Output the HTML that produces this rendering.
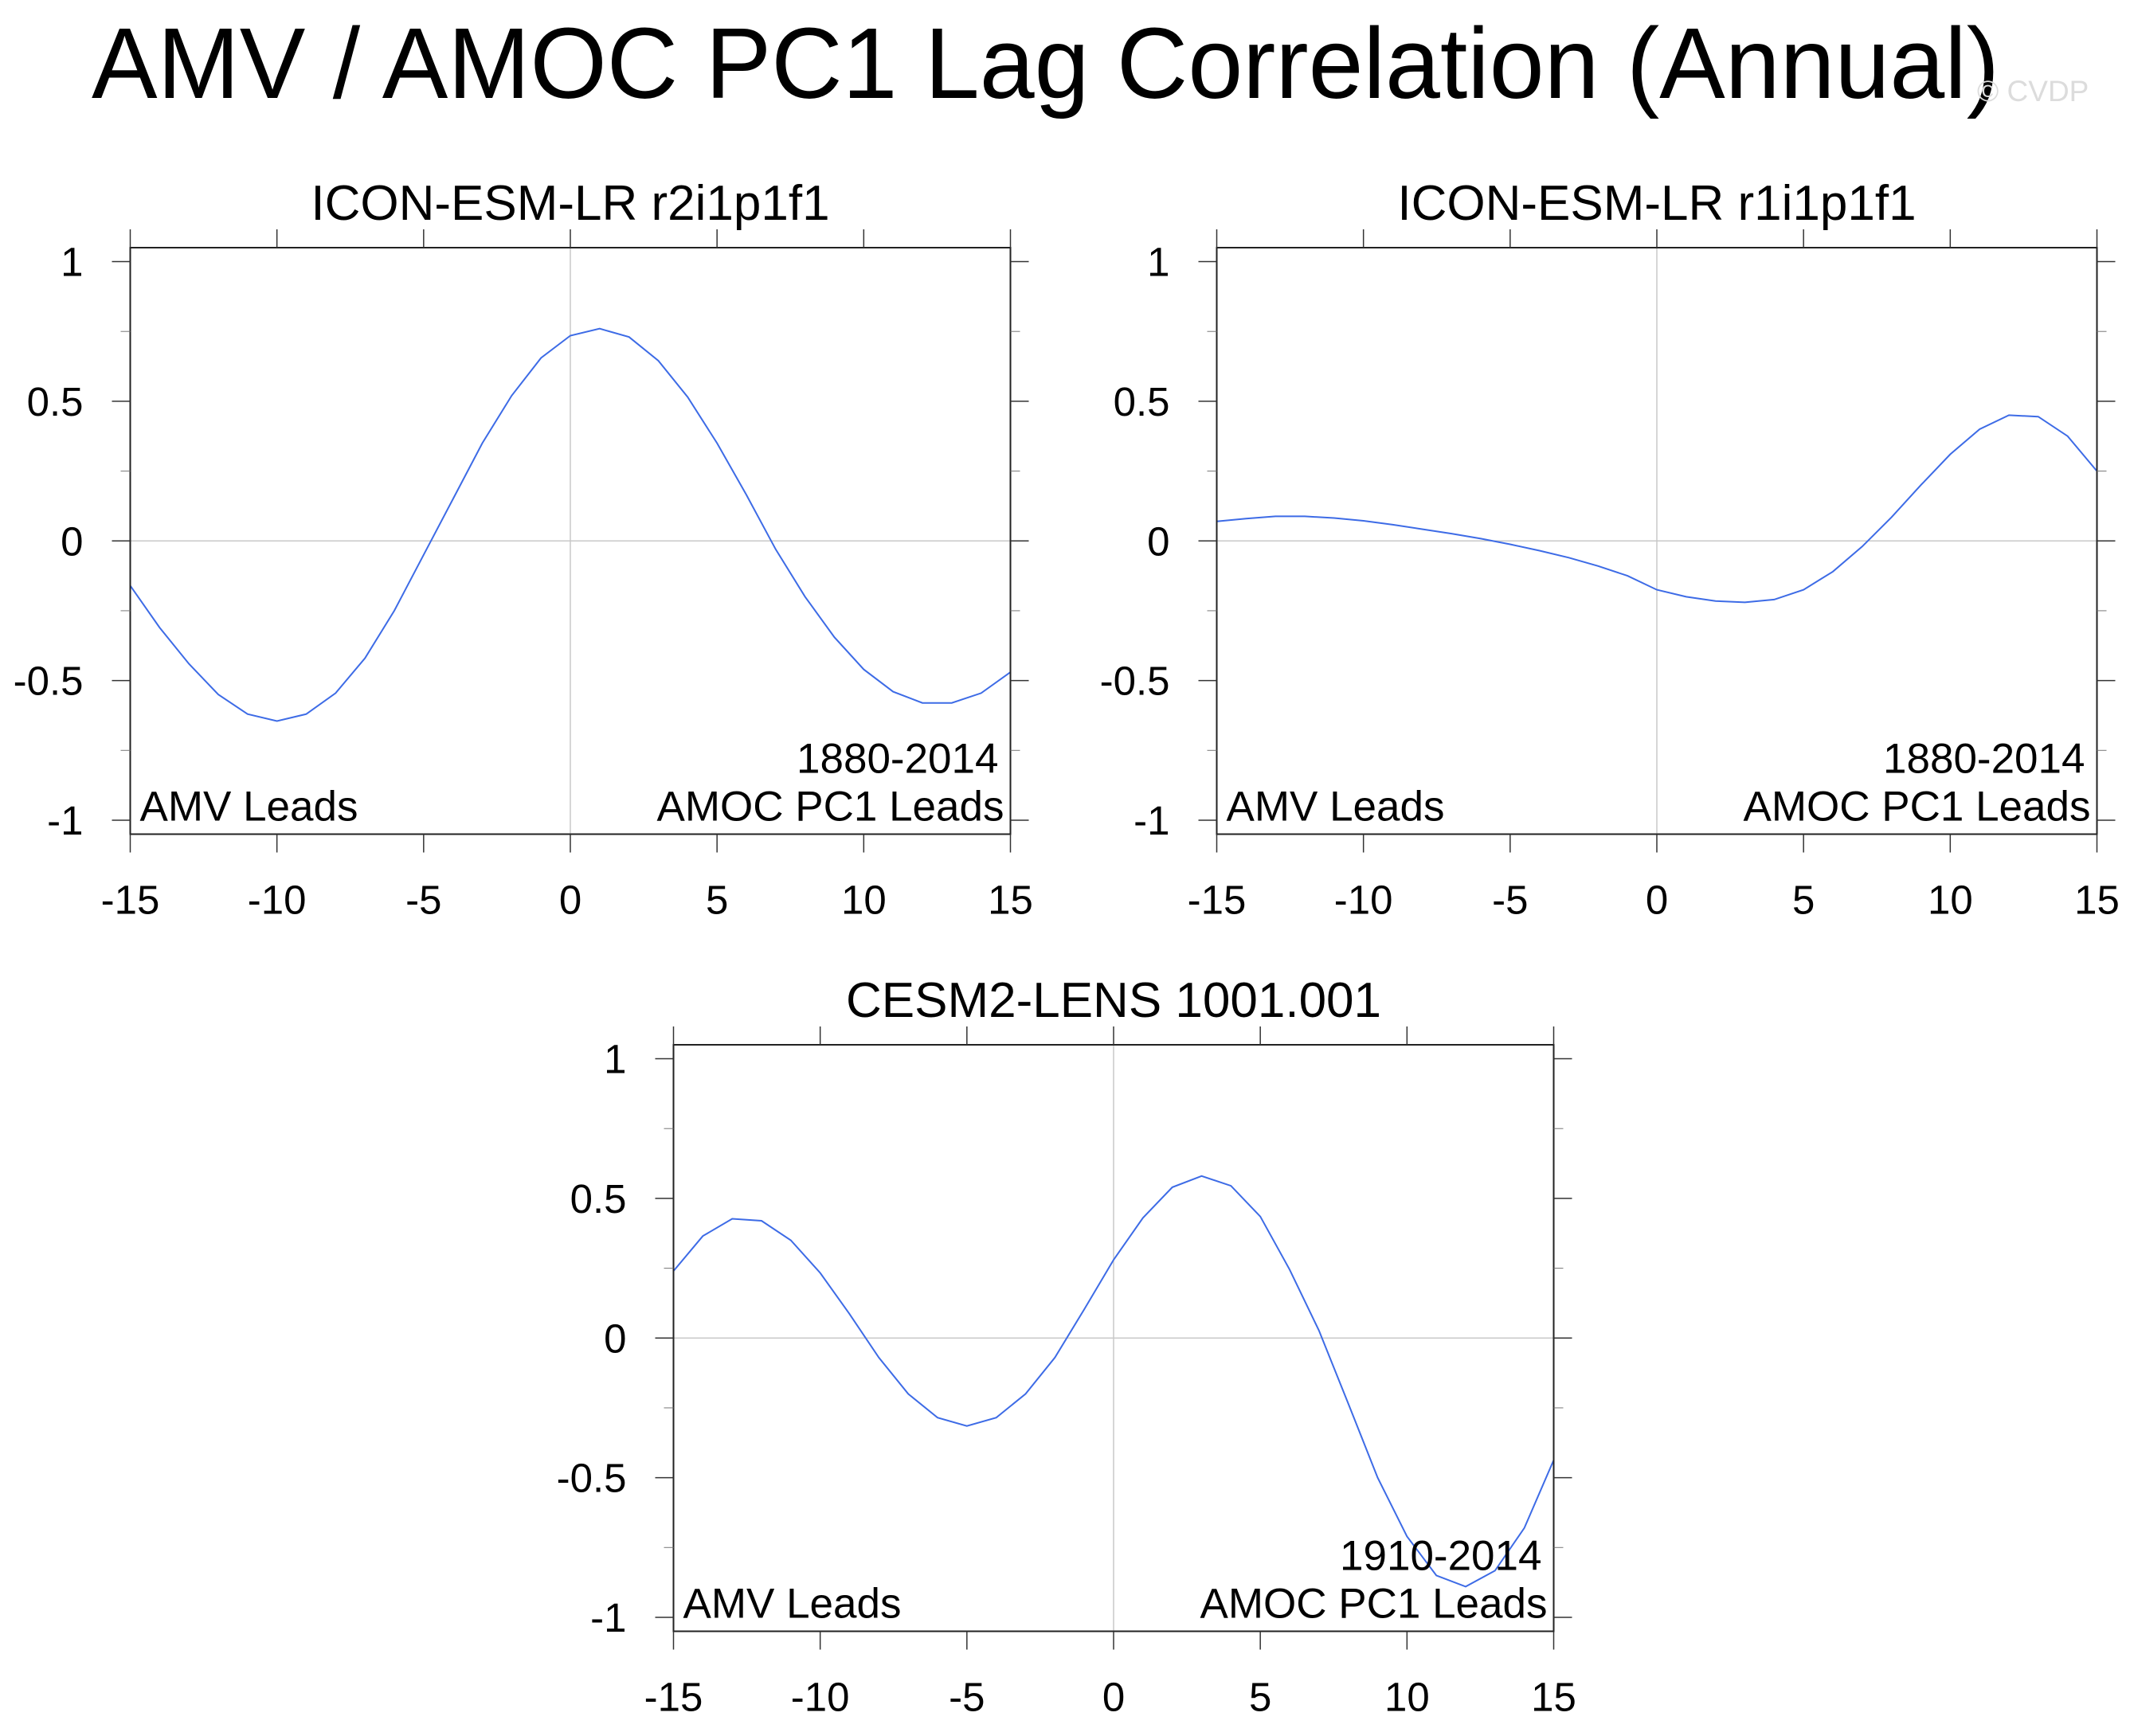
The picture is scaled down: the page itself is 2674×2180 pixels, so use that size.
<!DOCTYPE html>
<html><head><meta charset="utf-8"><style>
body{margin:0;background:#fff}
svg{display:block;font-family:"Liberation Sans",sans-serif}
</style></head><body>
<svg id="chart" width="2674" height="2180" viewBox="0 0 2674 2180" xmlns="http://www.w3.org/2000/svg">
<text x="115" y="123" font-size="126" textLength="2395" lengthAdjust="spacingAndGlyphs">AMV / AMOC PC1 Lag Correlation (Annual)</text>
<text x="2482" y="127" font-size="37" fill="#dcdcdc">© CVDP</text>
</svg>
<script>
const lags = [-15,-14,-13,-12,-11,-10,-9,-8,-7,-6,-5,-4,-3,-2,-1,0,1,2,3,4,5,6,7,8,9,10,11,12,13,14,15];
const seriesA = [-0.16,-0.31,-0.44,-0.55,-0.62,-0.645,-0.62,-0.545,-0.42,-0.25,-0.05,0.15,0.35,0.52,0.655,0.735,0.76,0.73,0.645,0.515,0.35,0.165,-0.03,-0.2,-0.345,-0.46,-0.54,-0.58,-0.58,-0.545,-0.47];
const seriesB = [0.07,0.08,0.088,0.088,0.082,0.072,0.058,0.042,0.026,0.008,-0.012,-0.035,-0.06,-0.09,-0.125,-0.175,-0.2,-0.215,-0.22,-0.21,-0.175,-0.11,-0.02,0.085,0.2,0.31,0.4,0.45,0.445,0.375,0.25];
const seriesC = [0.24,0.365,0.427,0.42,0.35,0.233,0.086,-0.07,-0.2,-0.285,-0.315,-0.285,-0.2,-0.07,0.103,0.28,0.43,0.54,0.58,0.545,0.435,0.245,0.027,-0.235,-0.5,-0.71,-0.85,-0.89,-0.833,-0.68,-0.437];
const xTicks = [-15,-10,-5,0,5,10,15];
const yTicks = [-1,-0.5,0,0.5,1];
const yMinor = [-0.75,-0.25,0.25,0.75];
const panelTitles = ["ICON-ESM-LR r2i1p1f1","ICON-ESM-LR r1i1p1f1","CESM2-LENS 1001.001"];
const panelYears = ["1880-2014","1880-2014","1910-2014"];

const NS="http://www.w3.org/2000/svg";
const svg=document.getElementById('chart');
function mk(tag,attrs,parent){const e=document.createElementNS(NS,tag);for(const k in attrs)e.setAttribute(k,attrs[k]);(parent||svg).appendChild(e);return e;}

const panels=[{x:163.5,y:311,s:seriesA},{x:1527.5,y:311,s:seriesB},{x:845.5,y:1312,s:seriesC}];
const W=1105,H=736.5,YMIN=-1.05,YMAX=1.05;

panels.forEach((p,i)=>{
  const g=mk('g',{});
  
  
  const xs=v=>p.x+(v+15)/30*W;
  const ys=v=>p.y+(YMAX-v)/(YMAX-YMIN)*H;
  const zl=mk('line',{x1:p.x,x2:p.x+W,y1:ys(0),y2:ys(0),stroke:'#c8c8c8','stroke-width':1.5},g);
  
  
  const vl=mk('line',{x1:xs(0),x2:xs(0),y1:p.y,y2:p.y+H,stroke:'#c8c8c8','stroke-width':1.5},g);
  
  
  const pts=lags.map((l,k)=>xs(l).toFixed(1)+','+ys(p.s[k]).toFixed(1)).join(' ');
  const pl=mk('polyline',{points:pts,fill:'none',stroke:'#3d6be6','stroke-width':2},g);
  
  
  const fr=mk('rect',{x:p.x,y:p.y,width:W,height:H,fill:'none',stroke:'#222','stroke-width':2},g);
  
  
  xTicks.forEach(t=>{
    mk('line',{x1:xs(t),x2:xs(t),y1:p.y+H,y2:p.y+H+23,stroke:'#333','stroke-width':1.5},g);
    mk('line',{x1:xs(t),x2:xs(t),y1:p.y,y2:p.y-23,stroke:'#333','stroke-width':1.5},g);
    const tx=mk('text',{x:xs(t),y:p.y+H+100,'font-size':51,'text-anchor':'middle'},g);
    
    
    tx.textContent=t;
  });
  yTicks.forEach(t=>{
    mk('line',{x1:p.x,x2:p.x-23,y1:ys(t),y2:ys(t),stroke:'#333','stroke-width':1.5},g);
    mk('line',{x1:p.x+W,x2:p.x+W+23,y1:ys(t),y2:ys(t),stroke:'#333','stroke-width':1.5},g);
    const ty=mk('text',{x:p.x-59,y:ys(t)+18,'font-size':51,'text-anchor':'end'},g);
    
    
    ty.textContent=t;
  });
  yMinor.forEach(t=>{
    mk('line',{x1:p.x,x2:p.x-12,y1:ys(t),y2:ys(t),stroke:'#777','stroke-width':1},g);
    mk('line',{x1:p.x+W,x2:p.x+W+12,y1:ys(t),y2:ys(t),stroke:'#777','stroke-width':1},g);
  });
  const ti=mk('text',{x:p.x+W/2,y:p.y-35,'font-size':62,'text-anchor':'middle'},g);
  
  
  ti.textContent=panelTitles[i];
  const a=mk('text',{x:p.x+12,y:p.y+H-17,'font-size':53},g);
  
  
  a.textContent='AMV Leads';
  const b=mk('text',{x:p.x+W-8,y:p.y+H-17,'font-size':53,'text-anchor':'end'},g);
  
  
  b.textContent='AMOC PC1 Leads';
  const yr=mk('text',{x:p.x+W-15,y:p.y+H-77,'font-size':53,'text-anchor':'end'},g);
  
  
  yr.textContent=panelYears[i];
});
</script>
</body></html>
